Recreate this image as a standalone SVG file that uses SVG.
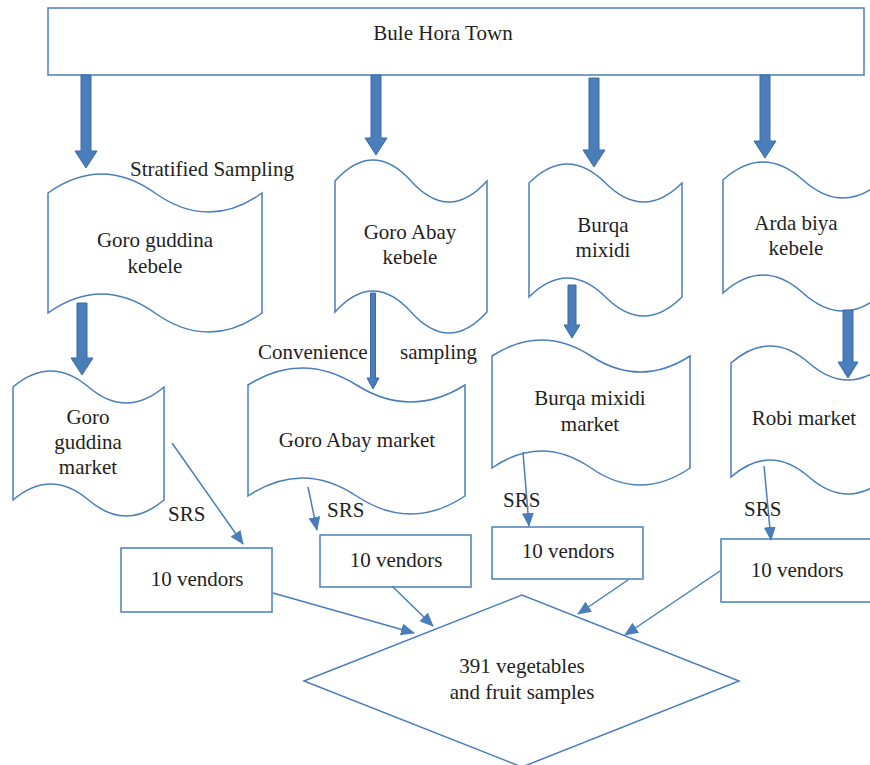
<svg xmlns="http://www.w3.org/2000/svg" width="870" height="765" viewBox="0 0 870 765">
<defs>
<marker id="ah" markerUnits="userSpaceOnUse" markerWidth="14" markerHeight="12" refX="13" refY="6" orient="auto">
<path d="M0,0 L14,6 L0,12 Z" fill="#4a7ebb"/>
</marker>
</defs>
<style>
.s{fill:#fff;stroke:#4a7ebb;stroke-width:1.5}
.t{font-family:"Liberation Serif",serif;font-size:21px;fill:#231f20;text-anchor:middle}
.l{font-family:"Liberation Serif",serif;font-size:21px;fill:#231f20}
.c{fill:none;stroke:#4a7ebb;stroke-width:1.5;marker-end:url(#ah)}
.b{fill:#4a7ebb;stroke:#3b6aa8;stroke-width:1}
</style>
<rect width="870" height="765" fill="#fff"/>
<g id="town">
<rect class="s" x="48" y="8" width="816" height="67"/>
<text class="t" x="443" y="40">Bule Hora Town</text>
</g>
<g id="goro-guddina-kebele">
<path class="s" d="M48,193 Q101.5,155 155,193 T262,193 L262,313 Q208.5,351 155,313 T48,313 Z"/>
<text class="t" x="155" y="247">Goro guddina</text>
<text class="t" x="155" y="273">kebele</text>
</g>
<g id="goro-abay-kebele">
<path class="s" d="M335,181 Q373,139 411,181 T487,181 L487,312 Q449,354 411,312 T335,312 Z"/>
<text class="t" x="410" y="239">Goro Abay</text>
<text class="t" x="410" y="264">kebele</text>
</g>
<g id="burqa-mixidi">
<path class="s" d="M529,183 Q567.25,145 605.5,183 T682,183 L682,297 Q643.75,335 605.5,297 T529,297 Z"/>
<text class="t" x="603" y="232">Burqa</text>
<text class="t" x="603" y="257">mixidi</text>
</g>
<g id="arda-biya-kebele">
<path class="s" d="M723,180 Q763,144 803,180 T883,180 L883,293 Q843,329 803,293 T723,293 Z"/>
<text class="t" x="796" y="230">Arda biya</text>
<text class="t" x="796" y="255">kebele</text>
</g>
<g id="goro-guddina-market">
<path class="s" d="M13,387 Q50.75,355 88.5,387 T164,387 L164,500 Q126.25,532 88.5,500 T13,500 Z"/>
<text class="t" x="88" y="424">Goro</text>
<text class="t" x="88" y="449">guddina</text>
<text class="t" x="88" y="474">market</text>
</g>
<g id="goro-abay-market">
<path class="s" d="M248,385 Q302.25,351 356.5,385 T465,385 L465,496 Q410.75,532 356.5,496 T248,496 Z"/>
<text class="t" x="357" y="447">Goro Abay market</text>
</g>
<g id="burqa-mixidi-market">
<path class="s" d="M492,356 Q541.5,324 591,356 T690,356 L690,468 Q640.5,502 591,468 T492,468 Z"/>
<text class="t" x="590" y="405">Burqa mixidi</text>
<text class="t" x="590" y="431">market</text>
</g>
<g id="robi-market">
<path class="s" d="M731,363 Q770,329 809,363 T887,363 L887,477 Q848,511 809,477 T731,477 Z"/>
<text class="t" x="804" y="425">Robi market</text>
</g>
<g id="vendors-1">
<rect class="s" x="121" y="548" width="151" height="64"/>
<text class="t" x="197" y="586">10 vendors</text>
</g>
<g id="vendors-2">
<rect class="s" x="320" y="535" width="151" height="52"/>
<text class="t" x="396" y="567">10 vendors</text>
</g>
<g id="vendors-3">
<rect class="s" x="492" y="527" width="151" height="52"/>
<text class="t" x="568" y="558">10 vendors</text>
</g>
<g id="vendors-4">
<rect class="s" x="721" y="539" width="151" height="63"/>
<text class="t" x="797" y="577">10 vendors</text>
</g>
<g id="samples">
<polygon class="s" points="304,681 522,595 739,681 522,767"/>
<text class="t" x="522" y="673">391 vegetables</text>
<text class="t" x="522" y="699">and fruit samples</text>
</g>
<g id="labels">
<text class="l" x="130" y="176">Stratified Sampling</text>
<text class="l" x="258" y="359">Convenience</text>
<text class="l" x="400" y="359">sampling</text>
<text class="l" x="168" y="521">SRS</text>
<text class="l" x="327" y="517">SRS</text>
<text class="l" x="503" y="507">SRS</text>
<text class="l" x="744" y="516">SRS</text>
</g>
<g id="connectors">
<polygon class="b" points="81,75 91,75 91,151 97,151 86,168 75,151 81,151"/>
<polygon class="b" points="371,75 381,75 381,138 387,138 376,155 365,138 371,138"/>
<polygon class="b" points="589,78 599,78 599,150 605,150 594,167 583,150 589,150"/>
<polygon class="b" points="760,75 770,75 770,141 776,141 765,158 754,141 760,141"/>
<polygon class="b" points="77,303 87,303 87,358 93,358 82,375 71,358 77,358"/>
<polygon class="b" points="370.5,293 375.5,293 375.5,378 379,378 373,389 367,378 370.5,378"/>
<polygon class="b" points="568,285 576,285 576,325 580,325 572,338 564,325 568,325"/>
<polygon class="b" points="843,310 853,310 853,362 858,362 848,378 838,362 843,362"/>
<path class="c" d="M172,443 L243,544"/>
<path class="c" d="M308,487 L317,530"/>
<path class="c" d="M523,452 L529,526"/>
<path class="c" d="M764,466 L771,540"/>
<path class="c" d="M273,593 L414,633"/>
<path class="c" d="M392,586 L433,626"/>
<path class="c" d="M628,580 L578,614"/>
<path class="c" d="M720,571 L625,635"/>
</g>
</svg>
